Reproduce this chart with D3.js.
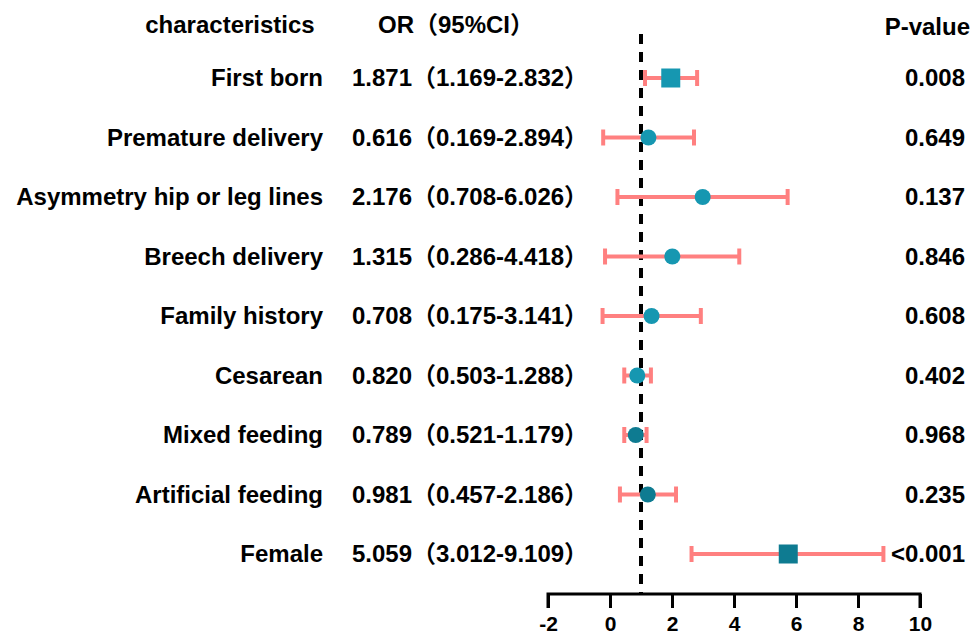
<!DOCTYPE html>
<html>
<head>
<meta charset="utf-8">
<script src="https://cdn.jsdelivr.net/npm/d3@7"></script>
<style>
  body { margin: 0; background: #fff; }
  svg text { font-family: "Liberation Sans", Arial, "Noto Sans CJK SC", sans-serif; font-weight: bold; fill: #000; }
</style>
</head>
<body>
<svg id="chart" width="972" height="637"></svg>
<script>
// rows, top to bottom
const categories = ["First born", "Premature delivery", "Asymmetry hip or leg lines", "Breech delivery",
  "Family history", "Cesarean", "Mixed feeding", "Artificial feeding", "Female"];
const orText = ["1.871", "0.616", "2.176", "1.315", "0.708", "0.820", "0.789", "0.981", "5.059"];
const ciText = ["1.169-2.832", "0.169-2.894", "0.708-6.026", "0.286-4.418", "0.175-3.141",
  "0.503-1.288", "0.521-1.179", "0.457-2.186", "3.012-9.109"];
const pText = ["0.008", "0.649", "0.137", "0.846", "0.608", "0.402", "0.968", "0.235", "<0.001"];
// plotted positions
const estPlot = [1.96, 1.24, 2.99, 2.01, 1.34, 0.88, 0.83, 1.22, 5.75];
const lowPlot = [1.13, -0.22, 0.24, -0.16, -0.24, 0.46, 0.46, 0.32, 2.63];
const highPlot = [2.81, 2.71, 5.73, 4.17, 2.93, 1.32, 1.18, 2.13, 8.82];
const xTicks = [-2, 0, 2, 4, 6, 8, 10];
const refLine = 1;

const darkRows = new Set(["Mixed feeding", "Artificial feeding", "Female"]);
const fs = 24;

const svg = d3.select("#chart");

let x = d3.scaleLinear().domain([-2, 10]).range([548, 920]);
let y = d3.scalePoint().domain(categories).range([78, 554]);

let rows = categories.map((c, i) => ({
  name: c, or: orText[i], ci: ciText[i], p: pText[i],
  est: estPlot[i], lo: lowPlot[i], hi: highPlot[i],
  sig: pText[i].startsWith("<") || +pText[i] < 0.05
}));

// headers
svg.append("text").attr("x", 230).attr("y", 25).attr("dy", "0.35em")
  .attr("text-anchor", "middle").attr("font-size", fs).text("characteristics");
svg.append("text").attr("x", 378).attr("y", 25).attr("dy", "0.35em")
  .attr("font-size", fs).text("OR（95%CI）");
svg.append("text").attr("x", 970).attr("y", 27).attr("dy", "0.35em")
  .attr("text-anchor", "end").attr("font-size", fs).text("P-value");

// reference line
svg.append("line")
  .attr("x1", x(refLine)).attr("x2", x(refLine))
  .attr("y1", 34).attr("y2", 594)
  .attr("stroke", "#000").attr("stroke-width", 4)
  .attr("stroke-dasharray", "10,8");

// axis
let axis = d3.axisBottom(x).tickValues(xTicks).tickSize(14).tickPadding(8).tickFormat(d => String(d));
let gAxis = svg.append("g").attr("transform", "translate(0,594)").call(axis);
gAxis.select(".domain").attr("stroke", "#000").attr("stroke-width", 3)
  .attr("d", "M" + x(-2) + ",14V0H" + x(10) + "V14");
gAxis.selectAll(".tick line").attr("stroke", "#000").attr("stroke-width", 3);
gAxis.selectAll(".tick text").attr("font-size", 21).attr("font-weight", "bold")
  .attr("font-family", "'Liberation Sans', Arial, sans-serif").attr("fill", "#000");

let g = svg.append("g").selectAll("g.row").data(rows).enter()
  .append("g").attr("class", "row")
  .attr("transform", d => "translate(0," + y(d.name) + ")");

// text columns
g.append("text").attr("x", 323).attr("dy", "0.35em").attr("text-anchor", "end")
  .attr("font-size", fs).text(d => d.name);
g.append("text").attr("x", 352).attr("dy", "0.35em")
  .attr("font-size", fs).text(d => d.or);
g.append("text").attr("x", 412).attr("dy", "0.35em")
  .attr("font-size", fs).text(d => "（" + d.ci + "）");
g.append("text").attr("x", 965).attr("dy", "0.35em").attr("text-anchor", "end")
  .attr("font-size", fs).text(d => d.p);

// error bars
const barColor = "#ff8080";
g.append("line").attr("x1", d => x(d.lo)).attr("x2", d => x(d.hi))
  .attr("stroke", barColor).attr("stroke-width", 4);
g.append("line").attr("x1", d => x(d.lo)).attr("x2", d => x(d.lo)).attr("y1", -8).attr("y2", 8)
  .attr("stroke", barColor).attr("stroke-width", 4);
g.append("line").attr("x1", d => x(d.hi)).attr("x2", d => x(d.hi)).attr("y1", -8).attr("y2", 8)
  .attr("stroke", barColor).attr("stroke-width", 4);

// markers
const fill = d => darkRows.has(d.name) ? "#0e7b91" : "#1697b1";
g.filter(d => d.sig).append("rect")
  .attr("x", d => x(d.est) - 9.5).attr("y", -9.5).attr("width", 19).attr("height", 19)
  .attr("fill", fill);
g.filter(d => !d.sig).append("circle")
  .attr("cx", d => x(d.est)).attr("r", 8)
  .attr("fill", fill);
</script>
</body>
</html>
